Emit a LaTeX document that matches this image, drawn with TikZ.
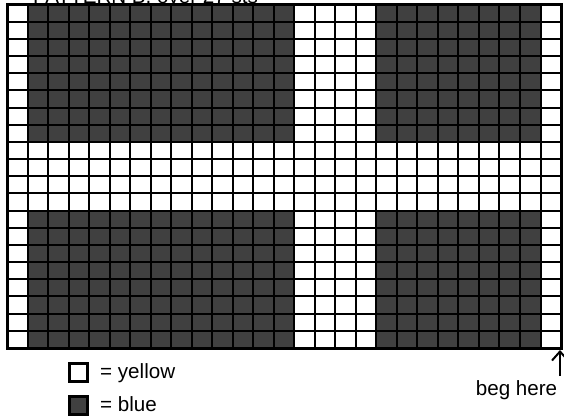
\documentclass[tikz,border=0pt]{standalone}
\usepackage{fontspec}
\setmainfont{Liberation Sans}
\usetikzlibrary{arrows.meta,positioning}
\newcommand{\cellw}{20.519}
\newcommand{\cellh}{17.175}

\begin{document}
\begin{tikzpicture}[
    x=1pt,y=-1pt,
    font=\fontsize{20.6}{24}\selectfont,
    >={Straight Barb[length=9pt,width=16pt]},
    gridline/.style={draw=black,line width=2pt},
    blueblock/.style={fill=black!75},
    keybox/.style={draw=black,line width=3pt,minimum size=18pt,inner sep=0pt},
    keytext/.style={inner sep=0pt,anchor=base west}
  ]
    \useasboundingbox (0,0) rectangle (564,415);
    \clip (0,0) rectangle (564,415);

    % title, cut by the top edge
    \node[keytext] (title) at (33,3) {PATTERN B, over 27 sts};

    % blue blocks of the chart
    \foreach \ca/\cb/\ra/\rb in {1/14/0/8,18/26/0/8,1/14/12/20,18/26/12/20}
      \fill[blueblock] ({7+\ca*\cellw},{4.5+\ra*\cellh}) rectangle ({7+\cb*\cellw},{4.5+\rb*\cellh});

    % grid lines
    \foreach \i in {0,...,27}
      \draw[gridline] ({7+\i*\cellw},4.5) -- ({7+\i*\cellw},348);
    \foreach \j in {0,...,20}
      \draw[gridline] (7,{4.5+\j*\cellh}) -- (561,{4.5+\j*\cellh});
    \draw[line width=3pt] (7,4.5) rectangle (561,348);

    % legend
    \node[keybox,fill=white] (yellowkey) at (78.5,372) {};
    \node[keytext] (yellowtext) at (100,378.5) {= yellow};
    \node[keybox,blueblock] (bluekey) at (78.5,405.5) {};
    \node[keytext] (bluetext) at (100,411.5) {= blue};

    % start marker
    \node[inner sep=0pt,anchor=base] (beghere) at (516.5,395) {beg here};
    \coordinate (begfoot) at (560,376);
    \coordinate (begcorner) at (560,350);
    \draw[->,line width=2pt] (begfoot) -- (begcorner);
  \end{tikzpicture}
\end{document}
